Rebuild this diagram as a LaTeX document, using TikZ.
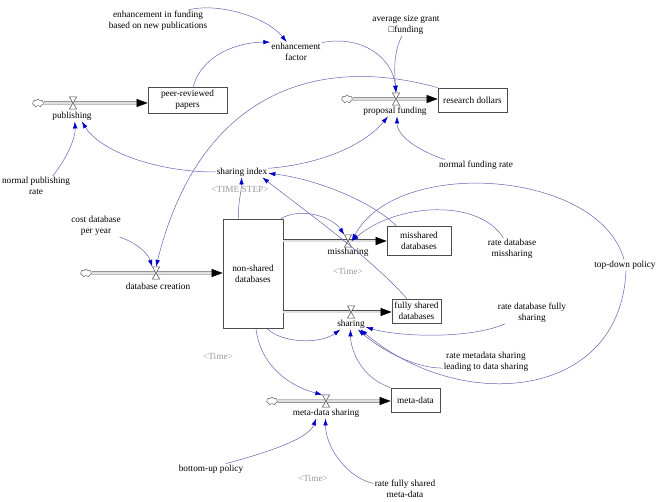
\documentclass[tikz,border=0pt]{standalone}
\usepackage{fontspec}
\setmainfont{Liberation Serif}
\usetikzlibrary{arrows.meta,shapes.symbols}
\definecolor{linkline}{RGB}{100,100,176}
\definecolor{linktip}{RGB}{0,0,200}
\tikzset{
  stock/.style={draw=black!70,line width=0.7pt,align=center,inner sep=1pt},
  aux/.style={align=center,inner sep=1pt},
  ghost/.style={aux,text=black!40},
  valve/.style={minimum width=7pt,minimum height=12pt,inner sep=0pt},
  source/.style={cloud,cloud puffs=7,aspect=1.3,draw=black!70,minimum width=11pt,minimum height=8pt,inner sep=0pt},
  pipe/.style={draw=black!70,line width=0.5pt,double=black!12,double distance=2pt,-{Triangle[length=11pt,width=8pt,color=black]}},
  link/.style={draw=linkline,line width=0.5pt,-{Latex[length=7pt,width=4.5pt,color=linktip]}}
}

\begin{document}
\begin{tikzpicture}[x=1pt,y=-1pt,font=\fontsize{9.3}{11}\selectfont]
  \useasboundingbox[fill=white] (0,0) rectangle (661,502);

  \node[aux] (enhin) at (158,21) {enhancement in funding\\based on new publications};
  \node[aux] (enh) at (296,52) {enhancement\\factor};
  \node[aux] (avg) at (406,25) {average size grant\\□funding};
  \node[stock,minimum width=79pt,minimum height=26pt] (peer) at (187.5,100) {peer-reviewed\\papers};
  \node[stock,minimum width=69pt,minimum height=24pt] (rd) at (472.5,100) {research dollars};
  \node[source] (pubC) at (38,103) {};
  \node[valve] (pubV) at (73,103) {};
  \node[aux] (pub) at (72,116) {publishing};
  \node[source] (propC) at (347,99) {};
  \node[valve] (propV) at (396,99) {};
  \node[aux] (prop) at (395,111) {proposal funding};
  \node[aux] (nfr) at (476,165) {normal funding rate};
  \node[aux] (npr) at (36,186) {normal publishing\\rate};
  \node[aux] (si) at (242,172) {sharing index};
  \node[ghost] (ts) at (240,189) {<TIME STEP>};
  \node[aux] (cdb) at (96,226) {cost database\\per year};
  \node[source] (dbcC) at (86,273) {};
  \node[valve] (dbcV) at (156,273) {};
  \node[aux] (dbc) at (158,286) {database creation};
  \node[stock,minimum width=60pt,minimum height=109pt] (nsd) at (253,273.5) {non-shared\\databases};
  \node[valve] (missV) at (348,241) {};
  \node[aux] (miss) at (348,252) {missharing};
  \node[ghost] (t1) at (348,271) {<Time>};
  \node[stock,minimum width=64pt,minimum height=29pt] (msd) at (419,240.5) {misshared\\databases};
  \node[aux] (rdm) at (512,249) {rate database\\missharing};
  \node[aux] (tdp) at (625,265) {top-down policy};
  \node[valve] (sharV) at (351,312) {};
  \node[aux] (shar) at (351,324) {sharing};
  \node[stock,minimum width=49pt,minimum height=24pt] (fsd) at (416.5,311) {fully shared\\databases};
  \node[aux] (rdf) at (532,313) {rate database fully\\sharing};
  \node[aux] (rms) at (486,362) {rate metadata sharing\\leading to data sharing};
  \node[ghost] (t2) at (218,356) {<Time>};
  \node[source] (mdsC) at (272,401) {};
  \node[valve] (mdsV) at (326,401) {};
  \node[aux] (mds) at (326,413) {meta-data sharing};
  \node[stock,minimum width=49pt,minimum height=24pt] (md) at (415.5,400) {meta-data};
  \node[aux] (bup) at (211,469) {bottom-up policy};
  \node[ghost] (t3) at (313,478) {<Time>};
  \node[aux] (rfm) at (405,489) {rate fully shared\\meta-data};

  \draw[pipe] (pubC) -- (pubC -| peer.west);
  \draw[pipe] (propC) -- (propC -| rd.west);
  \draw[pipe] (dbcC) -- (dbcC -| nsd.west);
  \draw[pipe] (nsd.east |- missV) -- (missV -| msd.west);
  \draw[pipe] (nsd.east |- sharV) -- (sharV -| fsd.west);
  \draw[pipe] (mdsC) -- (mdsC -| md.west);
  \foreach \v in {pubV,propV,dbcV,missV,sharV,mdsV}
    \draw[black!70,fill=white,line width=0.5pt] (\v.north west) -- (\v.north east) -- (\v.south west) -- (\v.south east) -- cycle;

  \draw[link] (enhin.20) .. controls +(30,-8) and +(-20,-25) .. (enh.133);
  \draw[link] (peer.67) .. controls +(8,-30) and +(-35,0) .. (enh.159);
  \draw[link] (enh.20) .. controls +(40,-8) and +(-3,-35) .. (propV.north);
  \draw[link] (avg.250) .. controls +(-8,15) and +(-2,-25) .. (propV.north);
  \draw[link] (rd.north west) .. controls +(-118,-33) and +(44,-177) .. (dbcV.north);
  \draw[link] (si.west) .. controls +(-63,0) and +(17,28) .. (pub.-29);
  \draw[link] (npr.31) .. controls +(14,-17) and +(1,16) .. (pub.-63);
  \draw[link] (si.8) .. controls +(53,-4) and +(-23,28) .. (prop.-142);
  \draw[link] (nfr.170) .. controls +(-25,-8) and +(0,20) .. (prop.-70);
  \draw[link] (cdb.-25) .. controls +(15,5) and +(-5,-15) .. (dbcV.north west);
  \draw[link] (nsd.105) .. controls +(0,-20) and +(0,15) .. (si.-95);
  \draw[link] (msd.147) .. controls +(-25,-25) and +(45,5) .. (si.-3);
  \draw[link] (fsd.128) .. controls +(-35,-40) and +(45,35) .. (si.-15);
  \draw[link] (nsd.63) .. controls +(20,-12) and +(-12,-18) .. (missV.north west);
  \draw[link] (rdm.128) .. controls +(-25,-40) and +(45,-38) .. (missV.east);
  \draw[link] (tdp.100) .. controls +(-25,-90) and +(45,-85) .. (missV.east);
  \draw[link] (tdp.-80) .. controls +(-5,130) and +(100,85) .. (shar.-30);
  \draw[link] (rms.-172) .. controls +(-30,0) and +(20,18) .. (shar.-38);
  \draw[link] (rdf.-158) .. controls +(-35,15) and +(35,10) .. (shar.-12);
  \draw[link] (nsd.-76) .. controls +(15,15) and +(-20,15) .. (shar.-153);
  \draw[link] (md.north west) .. controls +(-30,-10) and +(0,20) .. (shar.-95);
  \draw[link] (nsd.-87) .. controls +(5,40) and +(-30,-8) .. (mdsV.north west);
  \draw[link] (bup.20) .. controls +(30,-8) and +(-8,22) .. (mds.-151);
  \draw[link] (rfm.170) .. controls +(-25,-5) and +(0,30) .. (mds.-95);
\end{tikzpicture}
\end{document}
